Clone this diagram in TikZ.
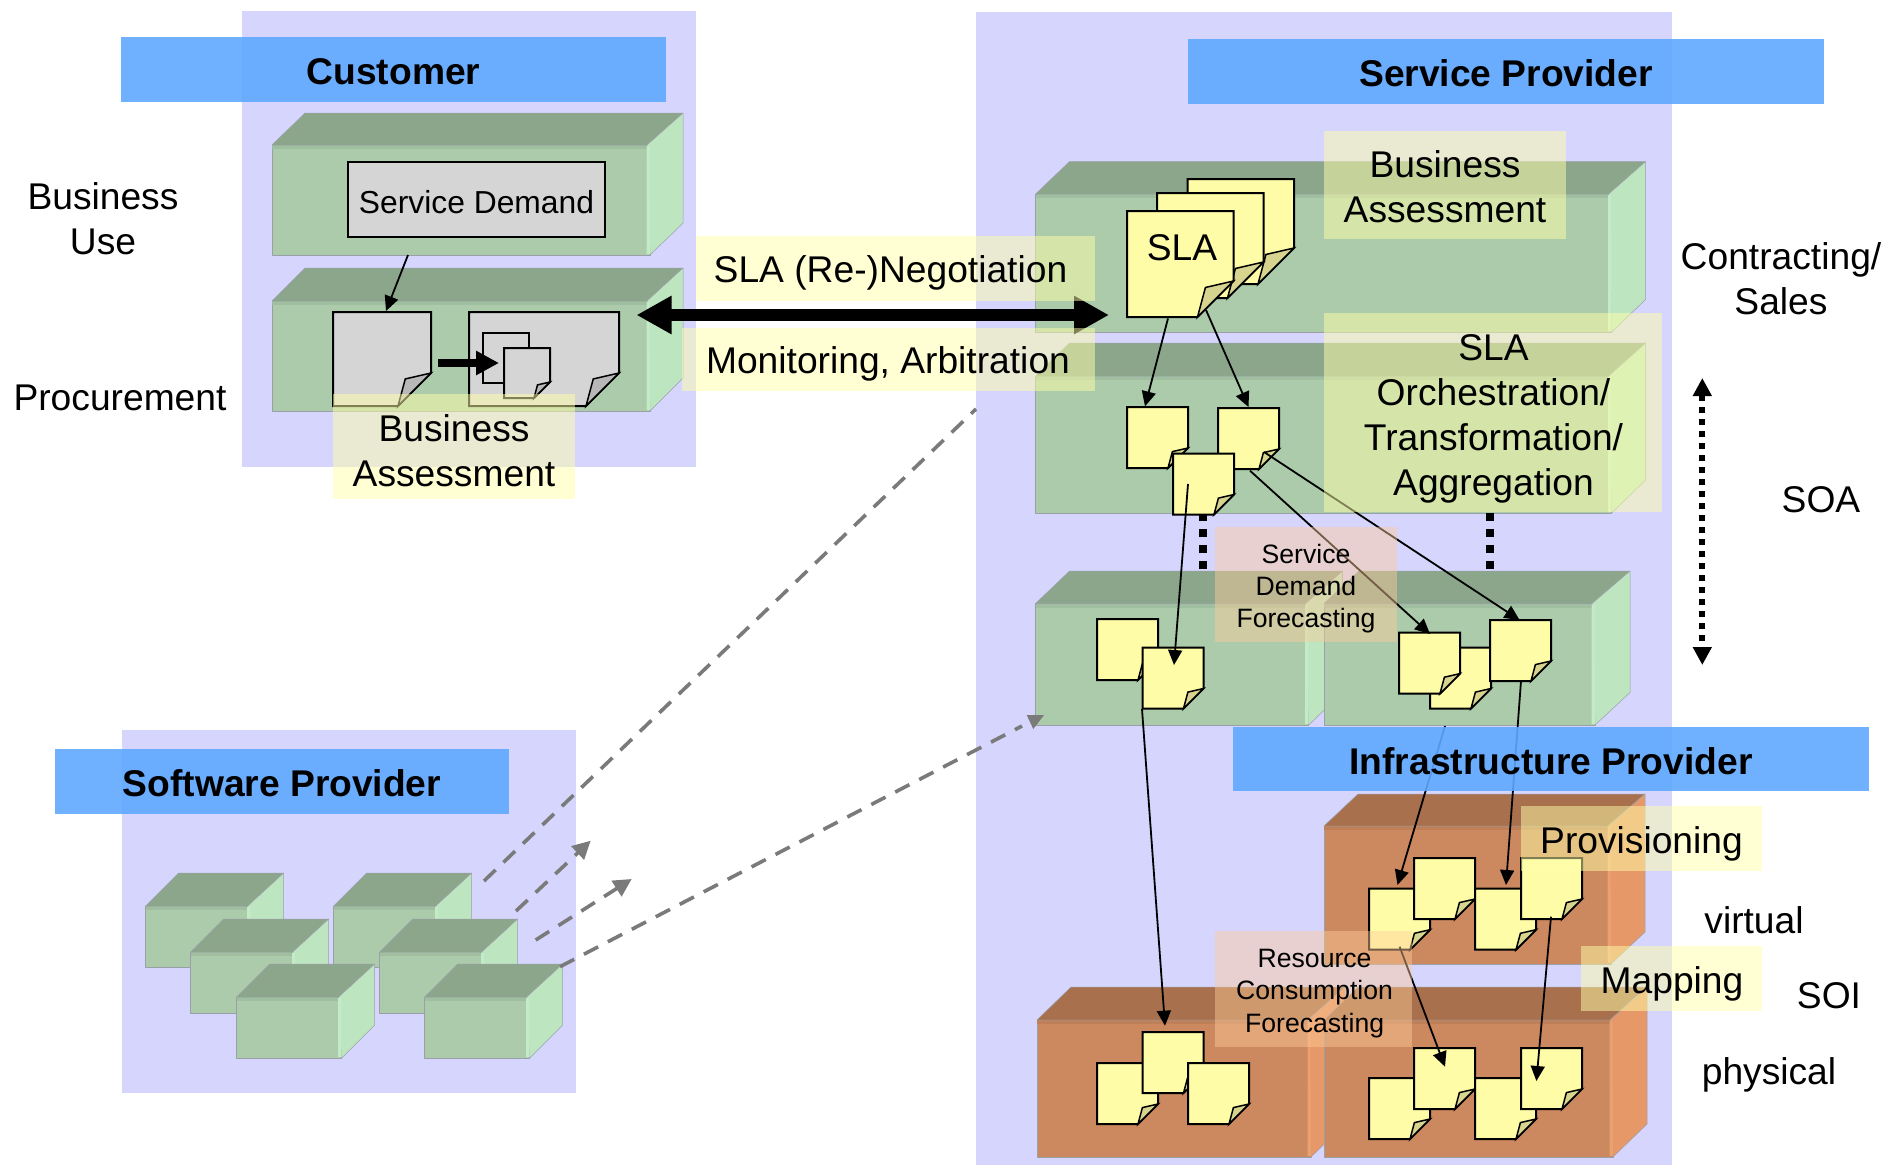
\documentclass[tikz,border=0pt]{standalone}
\usepackage{fontspec}
\setmainfont{Liberation Sans}
\usetikzlibrary{arrows.meta}
\definecolor{panelc}{HTML}{D5D5FD}
\definecolor{barc}{HTML}{5FA8FF}
\definecolor{gfront}{HTML}{ABCBAB}
\definecolor{gtop}{HTML}{8CA68C}
\definecolor{gside}{HTML}{BDE5C0}
\definecolor{gstrip}{HTML}{C4EBC8}
\definecolor{gedge}{HTML}{A0BFA0}
\definecolor{bfront}{HTML}{CC885F}
\definecolor{btop}{HTML}{A8704C}
\definecolor{bside}{HTML}{E69868}
\definecolor{bstrip}{HTML}{EBA070}
\definecolor{bedge}{HTML}{BF7F58}
\definecolor{yellowp}{HTML}{FFFCA8}
\definecolor{yellowf}{HTML}{D6D48E}
\definecolor{grayp}{HTML}{D5D5D5}
\definecolor{grayf}{HTML}{B8B8B8}
\definecolor{ovy}{HTML}{FFFFA8}
\definecolor{ovr}{HTML}{FFCC99}
\definecolor{dashc}{HTML}{7A7A7A}
\definecolor{cubeline}{HTML}{9AA0A8}
\newcommand{\lowered}[2]{\raisebox{-#1pt}[0pt][0pt]{#2}}
\tikzset{
  x=1pt, y=-1pt,
  corner/.style={anchor=north west, inner sep=0pt, outer sep=0pt},
  panelbox/.style={corner, fill=panelc},
  titlebar/.style={corner, fill=barc, fill opacity=.9, text opacity=1, font=\fontsize{37.2}{37.2}\selectfont\bfseries},
  cubeface/.style={draw=cubeline, line width=.5pt, line join=round},
  paper/.style={draw=black, line width=2pt, line join=miter},
  ovbase/.style={corner, fill opacity=.5},
  ovyellow/.style={ovbase, fill=ovy},
  ovred/.style={ovbase, fill=ovr, fill opacity=.45},
  lab/.style={inner sep=0pt, align=center, font=\fontsize{37.2}{45}\selectfont},
  smalllab/.style={inner sep=0pt, align=center, font=\fontsize{26.6}{32.3}\selectfont},
  wire/.style={draw=black, line width=1.8pt, -{Triangle[length=15pt,width=14pt]}},
  dashline/.style={draw=dashc, line width=3.6pt, dash pattern=on 16pt off 11pt},
  dashhead/.style={dashline, -{Triangle[length=18pt,width=18pt]}},
  fatarrow/.style={draw=black, line width=12pt, {Triangle[length=35pt,width=36pt]}-{Triangle[length=35pt,width=36pt]}},
  midarrow/.style={draw=black, line width=8pt, -{Triangle[length=23pt,width=23pt]}},
  blocks/.style={draw=black, line width=8pt, dash pattern=on 8pt off 8pt},
  vdots/.style={draw=black, line width=6pt, dash pattern=on 6pt off 6pt, {Triangle[length=18pt,width=18pt]}-{Triangle[length=18pt,width=18pt]}},
}
% cube: name, x, y, w, h, dx, dy, colour prefix
\newcommand{\cube}[8]{%
  \node[corner, cubeface, fill=#8front, minimum width=#4pt, minimum height=#5pt] (#1) at (#2,#3) {};
  \fill[#8edge] (#1.north west) rectangle ([shift={(0,4)}]#1.north east);
  \filldraw[cubeface, fill=#8top] (#1.north west) -- ++(#6,-#7) -- ([shift={(#6,-#7)}]#1.north east) -- ([shift={(-3,0)}]#1.north east) -- cycle;
  \filldraw[cubeface, fill=#8side] ([shift={(-3,0)}]#1.north east) -- ([shift={(#6,-#7)}]#1.north east) -- ([shift={(#6,-#7)}]#1.south east) -- (#1.south east) -- cycle;
  \fill[#8strip] ([shift={(-3.5,1)}]#1.north east) -- ([shift={(-.5,1)}]#1.north east) -- ([shift={(0,-1)}]#1.south east) -- ([shift={(-3.5,-1)}]#1.south east) -- cycle;
}
% note: name, x, y, w, h, fold x, fold y, paper, fold colour
\newcommand{\sticky}[9]{%
  \node[corner, minimum width=#4pt, minimum height=#5pt] (#1) at (#2,#3) {};
  \filldraw[paper, fill=#8] (#1.north west) -- (#1.north east) -- ([shift={(0,-#7)}]#1.south east) -- ([shift={(-#6,0)}]#1.south east) -- (#1.south west) -- cycle;
  \filldraw[paper, line width=1.5pt, fill=#9] ([shift={(0,-#7)}]#1.south east) -- ([shift={(-.78*#6,-.82*#7)}]#1.south east) -- ([shift={(-#6,0)}]#1.south east) -- cycle;
}
\newcommand{\ynote}[3]{\sticky{#1}{#2}{#3}{61}{61}{20}{20}{yellowp}{yellowf}}
\newcommand{\wireto}[5][wire]{\draw[#1] ([shift={(#3)}]#2.north west) -- ([shift={(#5)}]#4.north west);}
\begin{document}
\begin{tikzpicture}
\useasboundingbox (0,0) rectangle (1899,1165);
% panels
\node[panelbox, minimum width=454pt, minimum height=456pt] (pcust) at (242,11) {};
\node[panelbox, minimum width=696pt, minimum height=1153pt] (psp) at (976,12) {};
\node[panelbox, minimum width=454pt, minimum height=363pt] (psw) at (122,730) {};
% cubes customer
\cube{cu1}{272}{145}{378}{110}{33}{32}{g}
\cube{cu2}{272}{301}{378}{110}{33}{33}{g}
% cubes service provider
\cube{sp1}{1035.6}{194}{576}{138}{34}{32.5}{g}
\cube{sp2}{1035.6}{376}{576}{137}{34}{33}{g}
\cube{sp3}{1035.6}{603.5}{273}{121.5}{34}{32.5}{g}
\cube{sp4}{1324}{603.5}{271}{121.5}{35}{32.5}{g}
% cubes infrastructure
\cube{iv}{1324}{826}{287}{138}{34}{32}{b}
\cube{ip1}{1037}{1020}{274}{137}{34}{33}{b}
\cube{ip2}{1324}{1020}{289}{137}{34}{33}{b}
% cubes software
\cube{sw1}{145.7}{906}{105}{61}{33}{33}{g}
\cube{sw4}{333.7}{906}{105}{61}{33}{33}{g}
\cube{sw2}{190.7}{952}{105}{61}{33}{33}{g}
\cube{sw5}{379.7}{952}{105}{61}{33}{33}{g}
\cube{sw3}{236.7}{997}{105}{61}{33}{33}{g}
\cube{sw6}{424.7}{997}{105}{61}{33}{33}{g}
% dotted links between layers
\draw[blocks] ([shift={(167,0)}]sp2.south west) -- ([shift={(167,-33)}]sp3.north west);
\draw[blocks] ([shift={(454.4,0)}]sp2.south west) -- ([shift={(166,-33)}]sp4.north west);
% customer documents
\node[corner, draw=black, line width=2pt, fill=grayp, minimum width=257pt, minimum height=75pt, font=\fontsize{31.8}{32}\selectfont] (sd) at (348,162) {\lowered{14}{Service Demand}};
\sticky{doca}{333}{312}{98}{94}{33}{33}{grayp}{grayf}
\sticky{docb}{469}{312}{150}{94}{33}{33}{grayp}{grayf}
\node[corner, draw=black, line width=2pt, fill=grayp, minimum width=46pt, minimum height=50pt] (docc) at (483,333) {};
\sticky{docd}{504}{348}{46}{50}{16}{16}{grayp}{grayf}
% SLA stack
\sticky{slac}{1187.5}{179}{106.5}{105}{36}{36}{yellowp}{yellowf}
\sticky{slab}{1157}{193}{106.5}{105}{36}{36}{yellowp}{yellowf}
\sticky{slaa}{1127}{211}{106.5}{106}{36}{36}{yellowp}{yellowf}
\node[lab] (slatext) at (1182,248) {SLA};
% orchestration notes
\ynote{na}{1127}{407}
\ynote{nb}{1218}{408}
\ynote{nc}{1173}{453.5}
\ynote{nd}{1097}{619}
\ynote{ne}{1142.5}{647.5}
\ynote{nf}{1430}{647.5}
\ynote{ng}{1399}{632.6}
\ynote{nh}{1490}{620}
% infrastructure notes
\ynote{va}{1369}{888.7}
\ynote{vb}{1414}{858}
\ynote{vc}{1475}{888.7}
\ynote{vd}{1521}{858}
\ynote{pa}{1369}{1078}
\ynote{pb}{1414}{1048}
\ynote{pc}{1475}{1078}
\ynote{pd}{1521}{1048}
\ynote{qa}{1097}{1063}
\ynote{qb}{1142.5}{1032}
\ynote{qc}{1188}{1063}
% connectors
\draw[wire] ([shift={(136,0)}]cu1.south west) -- ([shift={(53,-1)}]doca.north west);
\draw[midarrow] ([shift={(7,51)}]doca.north east) -- ([shift={(16,30)}]docc.north west);
\wireto{slaa}{41,107.4}{na}{18,-.6}
\wireto{slaa}{79,99}{nb}{30.5,-1}
\wireto{nc}{15,30.5}{ne}{31.5,17.5}
\wireto{nb}{32,62.7}{ng}{31,1.4}
\wireto{nb}{46,44}{nh}{29.6,0}
\wireto{ne}{-.5,61.5}{qb}{22.5,-6.3}
\wireto{ng}{46,93.4}{va}{28.5,-3.7}
\wireto{nh}{31,61}{vc}{31,-3.7}
\wireto{va}{30.6,58}{pb}{31,18.7}
\wireto{vd}{30,58.7}{pd}{15.4,33}
\draw[fatarrow] ([shift={(17.5,3)}]docb.north east) -- ([shift={(-18,104)}]slaa.north west);
% dashed dependencies
\coordinate (freeb) at (590.7,840.7);
\coordinate (freec) at (631.7,879);
\draw[dashline] ([shift={(150.3,-25)}]sw4.north west) -- ([shift={(0,397)}]psp.north west);
\draw[dashhead] ([shift={(136.3,-41)}]sw5.north west) -- (freeb);
\draw[dashhead] ([shift={(156,-12)}]sw5.north west) -- (freec);
\draw[dashline] ([shift={(135.3,-30.3)}]sw6.north west) -- ([shift={(-13.6,122.5)}]sp3.north west);
\fill[dashc] ([shift={(-8.9,111.5)}]sp3.north west) -- ([shift={(8.4,111.5)}]sp3.north west) -- ([shift={(-2.3,125.5)}]sp3.north west) -- cycle;
% SOA arrow
\coordinate (soatop) at (1702.3,378);
\coordinate (soabot) at (1702.3,665);
\draw[vdots] (soatop) -- (soabot);
% translucent overlays
\node[ovyellow, minimum width=242pt, minimum height=105pt] (ovba) at (333,394) {};
\node[ovyellow, minimum width=242pt, minimum height=108pt] (ovbb) at (1324,131) {};
\node[ovyellow, minimum width=338pt, minimum height=199pt] (ovorch) at (1324,313) {};
\node[ovyellow, minimum width=399pt, minimum height=65pt] (ovneg) at (696,236) {};
\node[ovyellow, minimum width=413pt, minimum height=63pt] (ovmon) at (682,328) {};
\node[ovyellow, minimum width=241pt, minimum height=65pt] (ovprov) at (1521,806) {};
\node[ovyellow, minimum width=181pt, minimum height=65pt] (ovmap) at (1581,946) {};
\node[ovred, minimum width=182pt, minimum height=115pt] (ovsdf) at (1215,527) {};
\node[ovred, minimum width=197pt, minimum height=116pt] (ovrcf) at (1215,931) {};
% overlay texts
\node[lab] (tba) at (454,451) {Business\\Assessment};
\node[lab] (tbb) at (1445,187) {Business\\Assessment};
\node[lab] (torch) at (1493.5,419) {SLA\\Orchestration/\\Transformation/\\Aggregation};
\node[lab] (tneg) at (890.5,273) {SLA (Re-)Negotiation};
\node[lab] (tmon) at (888,364) {Monitoring, Arbitration};
\node[lab] (tprov) at (1641.5,844) {Provisioning};
\node[lab] (tmap) at (1672,984) {Mapping};
\node[smalllab] (tsdf) at (1306,588.5) {Service\\Demand\\Forecasting};
\node[smalllab] (trcf) at (1314.6,993.5) {Resource\\Consumption\\Forecasting};
% title bars
\node[titlebar, minimum width=545pt, minimum height=65pt] (bcust) at (121,37) {\lowered{15}{Customer}};
\node[titlebar, minimum width=636pt, minimum height=65pt] (bsp) at (1188,39) {\lowered{15}{Service Provider}};
\node[titlebar, minimum width=636pt, minimum height=64pt] (bip) at (1233,727) {\lowered{15}{Infrastructure Provider}};
\node[titlebar, minimum width=454pt, minimum height=65pt] (bsw) at (55,749) {\lowered{15}{Software Provider}};
% free labels
\node[lab] (tuse) at (103,219) {Business\\Use};
\node[lab] (tproc) at (120,398) {Procurement};
\node[lab] (tcon) at (1781,279) {Contracting/\\Sales};
\node[lab] (tsoa) at (1821,500) {SOA};
\node[lab] (tvirt) at (1754,920) {virtual};
\node[lab] (tsoi) at (1829,995.5) {SOI};
\node[lab] (tphys) at (1769,1075) {physical};
\end{tikzpicture}
\end{document}
